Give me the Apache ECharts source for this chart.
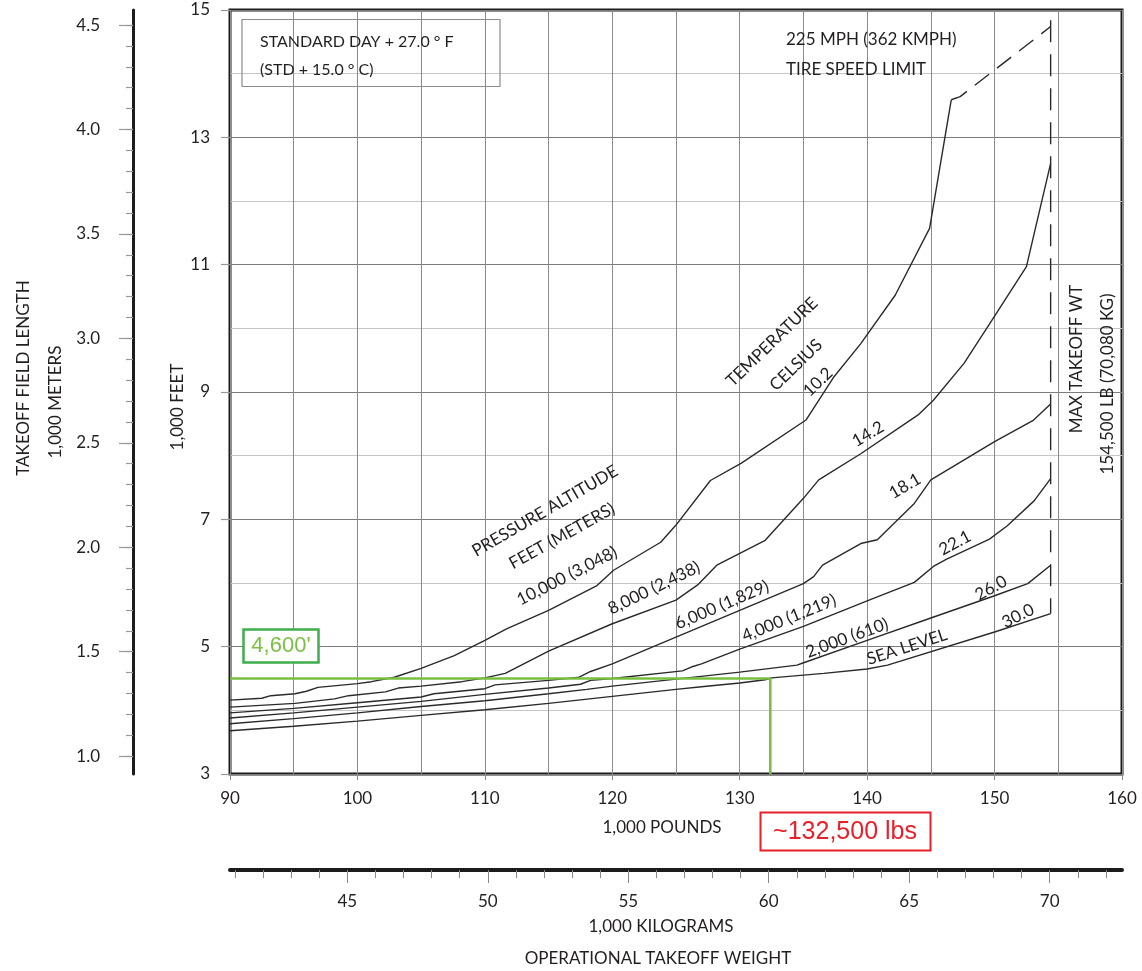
<!DOCTYPE html>
<html>
<head>
<meta charset="utf-8">
<script src="https://cdn.jsdelivr.net/npm/echarts@6/dist/echarts.min.js"></script>
<style>
html,body{margin:0;padding:0;background:#fff;}
#chart{width:1142px;height:971px;}
</style>
</head>
<body>
<div id="chart"></div>
<script>
// ---------------- DATA ----------------
// x = operational takeoff weight (1,000 lb), y = takeoff field length (1,000 ft)
const alt10000 = [[90,4.16],[92.5,4.19],[93.2,4.23],[95.1,4.26],[96,4.30],[96.9,4.36],[100,4.42],[101.1,4.45],[102.9,4.52],[105,4.66],[107.6,4.86],[110,5.10],[111.7,5.28],[115,5.57],[118.8,5.96],[120.1,6.20],[123.8,6.64],[125,6.91],[127.7,7.61],[130.1,7.88],[135.2,8.56],[137.4,9.24],[139.5,9.76],[142.2,10.52],[144.9,11.57],[146.6,13.59]];
const alt8000 = [[90,4.05],[95.1,4.11],[98.2,4.18],[99.3,4.23],[102.2,4.29],[103.2,4.35],[105,4.38],[108.2,4.45],[110,4.51],[111.6,4.58],[115,4.93],[120,5.36],[125,5.73],[126.7,5.97],[128.2,6.28],[132,6.67],[135,7.33],[136.2,7.62],[139.5,8.03],[144,8.64],[145.2,8.87],[147.6,9.45],[149.9,10.16],[152.5,10.97],[154.4,12.59]];
const alt6000 = [[90,3.96],[95,4.03],[100,4.12],[105,4.21],[106,4.26],[110,4.34],[110.8,4.40],[115,4.47],[117.4,4.52],[118.3,4.61],[120,4.73],[125,5.15],[130,5.57],[135,5.99],[135.8,6.10],[136.5,6.28],[139.5,6.62],[140.8,6.68],[143.7,7.25],[145,7.62],[150,8.22],[153,8.55],[154.4,8.81]];
const alt4000 = [[90,3.88],[95,3.96],[100,4.05],[105,4.14],[110,4.25],[115,4.35],[117.5,4.41],[118.3,4.47],[120,4.50],[125.5,4.62],[126.2,4.68],[127,4.73],[130,4.96],[135,5.32],[140,5.72],[143.7,6.01],[145.2,6.26],[146.2,6.37],[149.6,6.69],[151,6.90],[153.1,7.29],[154.4,7.64]];
const alt2000 = [[90,3.79],[95,3.87],[100,3.96],[105,4.06],[110,4.15],[115,4.26],[118,4.33],[120,4.38],[125,4.49],[130,4.60],[134.5,4.71],[134.9,4.74],[140,5.10],[145,5.45],[150,5.80],[152.6,5.99],[154.4,6.28]];
const altSeaLevel = [[90,3.68],[95,3.75],[100,3.83],[105,3.92],[110,4.01],[115,4.11],[120,4.22],[125,4.33],[127,4.37],[130,4.43],[132,4.48],[132.5,4.51],[136.6,4.58],[140,4.65],[141.6,4.71],[150,5.23],[154.4,5.52]];
const tireSpeedLimit = [[146.6,13.59],[147.3,13.64],[154.4,14.74]];
const maxTakeoffWt = [[154.4,14.84],[154.4,5.52]];
const exampleLine = [[90,4.5],[132.4,4.5],[132.4,3]];

const poundTicks = [90,100,110,120,130,140,150,160];
const feetTicks = [3,5,7,9,11,13,15];
const meterMajorTicks = [1.0,1.5,2.0,2.5,3.0,3.5,4.0,4.5];
const meterMinorTicks = [];
for (let i = 10; i <= 45; i++) meterMinorTicks.push(i / 10);
const kgMajorTicks = [45,50,55,60,65,70];
const kgMinorTicks = [];
for (let k = 41; k <= 72; k++) kgMinorTicks.push(k);

const LB_PER_KG = 2.20462;
const M_PER_FT = 0.3048;

// ---------------- CHART ----------------
const TXT = '#231f20';
const FF = 'Lato, "Open Sans", sans-serif';
const chart = echarts.init(document.getElementById('chart'), null, {renderer: 'canvas'});

function curve(data, extra) {
  return Object.assign({
    type: 'line', data: data, xAxisIndex: 0, yAxisIndex: 0,
    showSymbol: false, symbol: 'none', silent: true, animation: false,
    lineStyle: {color: '#2a2a2a', width: 1.4}, z: 3
  }, extra || {});
}

function txt(text, x, y, rotDeg, opts) {
  return {
    type: 'text', x: x, y: y, rotation: (rotDeg || 0) * Math.PI / 180, z: 10,
    style: Object.assign({
      text: text, x: 0, y: 0, fill: TXT, fontSize: 17, fontFamily: FF,
      align: 'center', verticalAlign: 'middle'
    }, opts || {})
  };
}

const option = {
  backgroundColor: '#fff',
  animation: false,
  grid: {left: 230, top: 10, right: 20, bottom: 197, show: true,
         borderColor: '#1c1c1c', borderWidth: 3, backgroundColor: 'transparent'},
  xAxis: [
    {type: 'value', min: 90, max: 160, interval: 10, position: 'bottom',
     axisLine: {show: false},
     axisTick: {show: true, length: 6, lineStyle: {color: '#888', width: 1}},
     axisLabel: {show: true, margin: 16, fontSize: 17, fontFamily: FF, color: TXT},
     splitLine: {show: true, lineStyle: {color: '#6e6e6e', width: 1}}},
    {type: 'value', min: 90, max: 160, interval: 5, position: 'bottom',
     axisLine: {show: false}, axisTick: {show: false}, axisLabel: {show: false},
     splitLine: {show: true, lineStyle: {color: '#8a8a8a', width: 1}}},
    {type: 'value', min: 90 / LB_PER_KG, max: 160 / LB_PER_KG, position: 'bottom', offset: 96,
     axisLine: {show: true, lineStyle: {color: '#1c1c1c', width: 4}},
     axisTick: {show: true, length: 8, customValues: kgMinorTicks, lineStyle: {color: '#888', width: 1}},
     axisLabel: {show: true, customValues: kgMajorTicks, margin: 23, fontSize: 17, fontFamily: FF, color: TXT},
     splitLine: {show: false}},
    {type: 'value', min: 90 / LB_PER_KG, max: 160 / LB_PER_KG, position: 'bottom', offset: 96,
     axisLine: {show: false},
     axisTick: {show: true, length: 13, customValues: kgMajorTicks, lineStyle: {color: '#888', width: 1}},
     axisLabel: {show: false}, splitLine: {show: false}}
  ],
  yAxis: [
    {type: 'value', min: 3, max: 15, interval: 1, position: 'left',
     axisLine: {show: false}, axisTick: {show: false}, axisLabel: {show: false},
     splitLine: {show: true, lineStyle: {color: ['#7c7c7c', '#c6c6c6'], width: 1.2}}},
    {type: 'value', min: 3, max: 15, position: 'left',
     axisLine: {show: false},
     axisTick: {show: true, length: 9, customValues: feetTicks, lineStyle: {color: '#999', width: 1.2}},
     axisLabel: {show: true, customValues: feetTicks, margin: 20, fontSize: 17, fontFamily: FF, color: TXT},
     splitLine: {show: false}},
    {type: 'value', min: 3 * M_PER_FT, max: 15 * M_PER_FT, position: 'left', offset: 97,
     axisLine: {show: true, lineStyle: {color: '#1c1c1c', width: 3}},
     axisTick: {show: true, length: 14, customValues: meterMajorTicks, lineStyle: {color: '#999', width: 1.2}},
     axisLabel: {show: true, customValues: meterMajorTicks, margin: 33, fontSize: 17, fontFamily: FF, color: TXT,
                 formatter: v => Number(v).toFixed(1)},
     splitLine: {show: false}},
    {type: 'value', min: 3 * M_PER_FT, max: 15 * M_PER_FT, position: 'left', offset: 97,
     axisLine: {show: false},
     axisTick: {show: true, length: 7, customValues: meterMinorTicks, lineStyle: {color: '#999', width: 1.2}},
     axisLabel: {show: false}, splitLine: {show: false}}
  ],
  series: [
    curve(alt10000), curve(alt8000), curve(alt6000), curve(alt4000), curve(alt2000), curve(altSeaLevel),
    curve(tireSpeedLimit, {lineStyle: {color: '#2a2a2a', width: 1.4, type: [18, 10]}}),
    curve(maxTakeoffWt, {lineStyle: {color: '#2a2a2a', width: 1.4, type: [22, 12]}}),
    curve(exampleLine, {lineStyle: {color: '#78c043', width: 2.6}, z: 5})
  ],
  graphic: {elements: [
    // legend box top-left
    {type: 'rect', shape: {x: 242, y: 19.5, width: 258, height: 67}, z: 9,
     style: {fill: 'none', stroke: '#8c8c8c', lineWidth: 1.2}},
    txt('STANDARD DAY + 27.0 \u00b0 F', 260, 42, 0, {align: 'left', fontSize: 16}),
    txt('(STD + 15.0 \u00b0 C)', 260, 70, 0, {align: 'left', fontSize: 16}),
    txt('225 MPH (362 KMPH)', 786, 40, 0, {align: 'left'}),
    txt('TIRE SPEED LIMIT', 786, 70, 0, {align: 'left'}),
    // axis titles
    txt('TAKEOFF FIELD LENGTH', 24, 378, 90),
    txt('1,000 METERS', 56, 402, 90),
    txt('1,000 FEET', 178, 407, 90),
    txt('1,000 POUNDS', 662, 828, 0),
    txt('1,000 KILOGRAMS', 661, 927, 0),
    txt('OPERATIONAL TAKEOFF WEIGHT', 658, 959, 0),
    txt('MAX TAKEOFF WT', 1077, 359, 90),
    txt('154,500 LB (70,080 KG)', 1108, 384, 90),
    // curve annotations
    txt('PRESSURE ALTITUDE', 545, 511, 30),
    txt('FEET (METERS)', 562, 536, 29),
    txt('10,000 (3,048)', 567, 576, 27),
    txt('8,000 (2,438)', 654, 588, 26),
    txt('6,000 (1,829)', 722, 605, 23),
    txt('4,000 (1,219)', 789, 618, 22),
    txt('2,000 (610)', 847, 638, 20),
    txt('SEA LEVEL', 907, 647, 18),
    txt('TEMPERATURE', 772, 342, 44),
    txt('CELSIUS', 796, 365, 44),
    txt('10.2', 818, 382, 44),
    txt('14.2', 868, 434, 30),
    txt('18.1', 905, 486, 30),
    txt('22.1', 955, 543, 28),
    txt('26.0', 991, 588, 29),
    txt('30.0', 1018, 616, 27),
    // green example box
    {type: 'rect', shape: {x: 243.5, y: 629.5, width: 75, height: 33}, z: 9,
     style: {fill: '#fff', stroke: '#3fae4c', lineWidth: 2.5}},
    txt("4,600'", 281, 646, 0, {fill: '#7ac143', fontSize: 22, fontFamily: '"Liberation Sans", Arial, sans-serif'}),
    // red result box
    {type: 'rect', shape: {x: 760.5, y: 812.5, width: 170, height: 38}, z: 9,
     style: {fill: '#fff', stroke: '#e8202a', lineWidth: 2}},
    txt('~132,500 lbs', 845, 832, 0, {fill: '#e8202a', fontSize: 25, fontFamily: '"Liberation Sans", Arial, sans-serif'})
  ]}
};
chart.setOption(option);
</script>
</body>
</html>
